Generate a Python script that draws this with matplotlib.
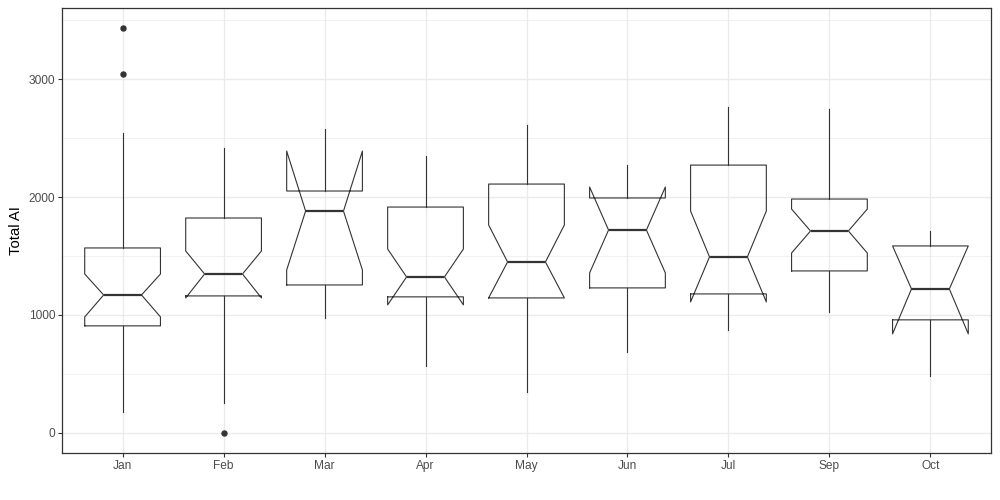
import matplotlib

matplotlib.use("Agg")
import matplotlib.pyplot as plt
from matplotlib.ticker import MultipleLocator

plt.rcParams["font.family"] = ["Liberation Sans", "DejaVu Sans"]

MONTHS = ["Jan", "Feb", "Mar", "Apr", "May", "Jun", "Jul", "Sep", "Oct"]
WHISKER_LOW = [178, 254, 975, 568, 347, 686, 873, 1025, 483]
Q1 = [907, 1161, 1254, 1153, 1144, 1229, 1178, 1373, 958]
MEDIAN = [1169, 1347, 1881, 1322, 1449, 1720, 1492, 1712, 1220]
Q3 = [1568, 1822, 2051, 1915, 2110, 1992, 2271, 1983, 1585]
WHISKER_HIGH = [2542, 2415, 2576, 2347, 2610, 2271, 2763, 2746, 1712]
NOTCH_LOW = [983, 1144, 1381, 1085, 1144, 1356, 1110, 1525, 839]
NOTCH_HIGH = [1347, 1542, 2390, 1559, 1763, 2085, 1881, 1898, 1585]
OUTLIERS = [[3432, 3042], [0], [], [], [], [], [], [], []]

GREY20 = "#333333"
GREY30 = "#4D4D4D"
GRID = "#EBEBEB"


def build_stats():
    stats = []
    for i, month in enumerate(MONTHS):
        stats.append(
            dict(
                label=month,
                whislo=WHISKER_LOW[i],
                q1=Q1[i],
                med=MEDIAN[i],
                q3=Q3[i],
                whishi=WHISKER_HIGH[i],
                cilo=NOTCH_LOW[i],
                cihi=NOTCH_HIGH[i],
                fliers=OUTLIERS[i],
            )
        )
    return stats


fig = plt.figure(figsize=(10, 5), dpi=100)
ax = fig.add_axes([0.062, 0.094, 0.929, 0.890])

positions = list(range(1, len(MONTHS) + 1))
ax.bxp(
    build_stats(),
    positions=positions,
    widths=0.75,
    shownotches=True,
    showcaps=False,
    boxprops=dict(color=GREY20, linewidth=0.8),
    whiskerprops=dict(color=GREY20, linewidth=0.8),
    medianprops=dict(color=GREY20, linewidth=1.6),
    flierprops=dict(
        marker="o",
        markersize=3.6,
        markerfacecolor=GREY20,
        markeredgecolor=GREY20,
        linestyle="none",
    ),
    zorder=3,
)

ax.set_xlim(0.4, 9.6)
ax.set_ylim(-171.6, 3603.6)
ax.yaxis.set_major_locator(MultipleLocator(1000))
ax.yaxis.set_minor_locator(MultipleLocator(500))
ax.set_xticks(positions)
ax.set_xticklabels(MONTHS)

ax.grid(True, which="major", color=GRID, linewidth=1.0, zorder=0)
ax.grid(True, which="minor", axis="y", color=GRID, linewidth=0.5, zorder=0)
ax.set_axisbelow(True)

for spine in ax.spines.values():
    spine.set_color(GREY20)
    spine.set_linewidth(0.9)

ax.tick_params(axis="both", which="major", length=3, width=0.8, color=GREY20,
               labelcolor=GREY30, labelsize=8.6, pad=2)
ax.tick_params(axis="y", which="minor", length=0)
ax.set_ylabel("Total AI", fontsize=10.7, color="black", labelpad=4)

fig.savefig("out.png", dpi=100)
